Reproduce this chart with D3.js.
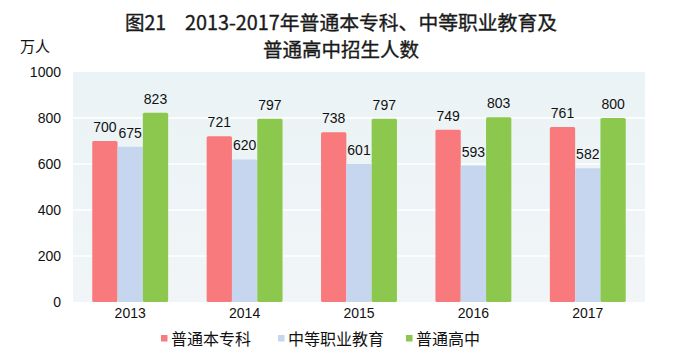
<!DOCTYPE html>
<html>
<head>
<meta charset="utf-8">
<script src="https://cdn.jsdelivr.net/npm/d3@7"></script>
<style>
  body { margin: 0; background: #fff; }
  text { font-family: "Liberation Sans", "Noto Sans CJK SC", sans-serif; fill: #111; }
  .cjk { font-family: "Noto Sans CJK SC", sans-serif; }
</style>
</head>
<body>
<div id="chart"></div>
<script>
const years = ['2013', '2014', '2015', '2016', '2017'];
const seriesNames = ['普通本专科', '中等职业教育', '普通高中'];
const undergrad = [700, 721, 738, 749, 761];
const vocational = [675, 620, 601, 593, 582];
const highSchool = [823, 797, 797, 803, 800];
const yTicks = [0, 200, 400, 600, 800, 1000];
const colors = ['#f97a7c', '#c5d6ee', '#8cc84e'];

const width = 673, height = 353;
const plot = { left: 73, right: 645, top: 72, bottom: 302 };

const svg = d3.select('#chart').append('svg')
  .attr('width', width)
  .attr('height', height);

// plot background, faint vertical gradient
const defs = svg.append('defs');
const grad = defs.append('linearGradient')
  .attr('id', 'bg').attr('x1', 0).attr('x2', 0).attr('y1', 0).attr('y2', 1);
grad.append('stop').attr('offset', '0%').attr('stop-color', '#eaf3f5');
grad.append('stop').attr('offset', '100%').attr('stop-color', '#f1f5f8');

svg.append('rect')
  .attr('x', plot.left).attr('y', plot.top)
  .attr('width', plot.right - plot.left)
  .attr('height', plot.bottom - plot.top)
  .attr('fill', 'url(#bg)');

const x = d3.scaleBand().domain(years).range([plot.left, plot.right]);
const y = d3.scaleLinear().domain([0, 1000]).range([plot.bottom, plot.top]);
const barW = 25.3;
const xs = d3.scaleBand().domain(d3.range(3)).range([0, barW * 3]);

// gridlines
svg.append('g').selectAll('line')
  .data(yTicks.slice(1, -1))
  .enter().append('line')
  .attr('x1', plot.left).attr('x2', plot.right)
  .attr('y1', d => y(d)).attr('y2', d => y(d))
  .attr('stroke', '#ffffff').attr('stroke-width', 1.5);

// y axis
const yAxis = svg.append('g')
  .attr('transform', `translate(${plot.left - 12},0)`)
  .call(d3.axisLeft(y).tickValues(yTicks).tickFormat(d3.format('d')).tickSize(0).tickPadding(0));
yAxis.select('.domain').remove();
yAxis.selectAll('text').attr('font-size', 14).attr('font-family', '"Liberation Sans", sans-serif').attr('fill', '#111');

// x axis labels
const xAxis = svg.append('g')
  .attr('transform', `translate(0,${plot.bottom})`)
  .call(d3.axisBottom(x).tickSize(0).tickPadding(6));
xAxis.select('.domain').remove();
xAxis.selectAll('text').attr('font-size', 14).attr('font-family', '"Liberation Sans", sans-serif').attr('fill', '#111');

const data = [undergrad, vocational, highSchool];
const barX = (i, si) => x(years[i]) + x.bandwidth() / 2 - barW * 1.5 + xs(si);

const groups = svg.append('g').selectAll('g')
  .data(data)
  .enter().append('g')
  .attr('fill', (d, i) => colors[i]);

groups.each(function(vals, si) {
  const g = d3.select(this);
  g.selectAll('rect')
    .data(vals)
    .enter().append('rect')
    .attr('x', (d, i) => barX(i, si))
    .attr('y', d => y(d))
    .attr('width', xs.bandwidth())
    .attr('height', d => y(0) - y(d))
    .attr('rx', 1.5);
  g.selectAll('text')
    .data(vals)
    .enter().append('text')
    .attr('x', (d, i) => barX(i, si) + xs.bandwidth() / 2)
    .attr('y', d => y(d) - 9)
    .attr('text-anchor', 'middle')
    .attr('font-size', 14)
    .style('fill', '#111')
    .text(d => d);
});

// title
const title = svg.append('g')
  .attr('class', 'cjk')
  .attr('font-size', 19.5)
  .style('fill', '#1a1a1a')
  .attr('stroke', '#1a1a1a')
  .attr('stroke-width', 0.35);
title.append('text')
  .attr('class', 'cjk')
  .attr('x', 125).attr('y', 30)
  .style('fill', '#1a1a1a')
  .text('图21');
title.append('text')
  .attr('class', 'cjk')
  .attr('x', 185).attr('y', 30)
  .attr('textLength', 372)
  .attr('lengthAdjust', 'spacingAndGlyphs')
  .style('fill', '#1a1a1a')
  .text('2013-2017年普通本专科、中等职业教育及');
title.append('text')
  .attr('class', 'cjk')
  .attr('x', 341).attr('y', 57)
  .attr('text-anchor', 'middle')
  .style('fill', '#1a1a1a')
  .text('普通高中招生人数');

svg.append('text')
  .attr('class', 'cjk')
  .attr('x', 20).attr('y', 52)
  .attr('font-size', 15)
  .style('fill', '#111')
  .text('万人');

// legend
const legendX = [161, 278, 406];
const legend = svg.append('g').selectAll('g')
  .data(seriesNames)
  .enter().append('g')
  .attr('transform', (d, i) => `translate(${legendX[i]},338)`);
legend.append('rect')
  .attr('x', 0).attr('y', -3)
  .attr('width', 6.5).attr('height', 6.5)
  .attr('fill', (d, i) => colors[i]);
legend.append('text')
  .attr('class', 'cjk')
  .attr('x', 10).attr('y', 6.5)
  .attr('font-size', 16)
  .style('fill', '#111')
  .text(d => d);
</script>
</body>
</html>
